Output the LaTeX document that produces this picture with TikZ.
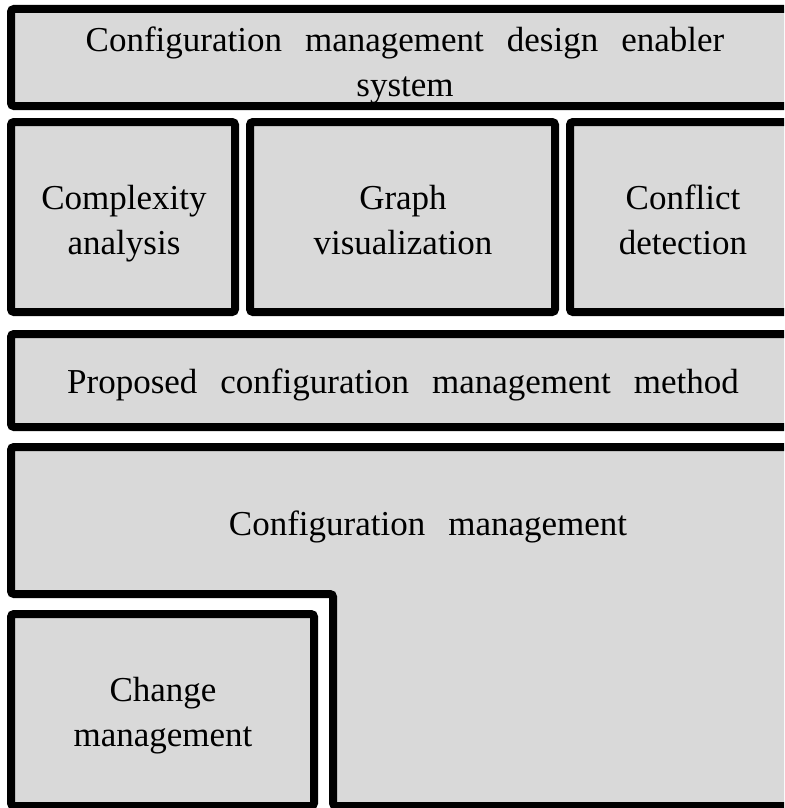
\documentclass[tikz,border=0pt]{standalone}
\usepackage{fontspec}
\setmainfont{Liberation Serif}
\newcommand\blockfont{\fontsize{35}{45}\selectfont\spaceskip=23pt\relax}
\begin{document}
\begin{tikzpicture}[x=1pt,y=-1pt,
  block/.style={draw=black,fill=boxgray,line width=8pt,rounded corners=3pt,
    inner sep=0pt,outer sep=0pt},
  label/.style={inner sep=0pt,align=center,font=\blockfont}]
\definecolor{boxgray}{HTML}{D9D9D9}
\useasboundingbox (0,0) rectangle (784,808);
\fill[white] (0,0) rectangle (784,808);
\clip (0,0) rectangle (784,808);

% enabler system on top
\node[block,minimum width=785pt,minimum height=97pt] (enabler) at (403.5,57.5) {};
\node[label] (enablertext) at (405,65)
  {Configuration management design enabler\\system};

% the three tools
\node[block,minimum width=224pt,minimum height=190pt] (complexity) at (123,217) {};
\node[block,minimum width=305pt,minimum height=190pt] (graph) at (402.5,217) {};
\node[block,minimum width=226pt,minimum height=190pt] (conflict) at (683,217) {};
\node[label] (complexitytext) at (124,224) {Complexity\\analysis};
\node[label] (graphtext) at (403,220) {Graph\\visualization};
\node[label] (conflicttext) at (683,220) {Conflict\\detection};

% method layer
\node[block,minimum width=785pt,minimum height=93pt] (method) at (403.5,380.5) {};
\node[label] (methodtext) at (403,385) {Proposed configuration management method};

% configuration management, wrapped around change management
\draw[draw=black,fill=boxgray,line width=8pt,rounded corners=3pt]
  (11,447) -- (796,447) -- (796,806) -- (333,806) -- (333,594) -- (11,594) -- cycle;
\node[label] (config) at (428,527) {Configuration management};

\node[block,minimum width=303pt,minimum height=192pt] (change) at (162.5,710) {};
\node[label] (changetext) at (163,716) {Change\\management};
\end{tikzpicture}
\end{document}
